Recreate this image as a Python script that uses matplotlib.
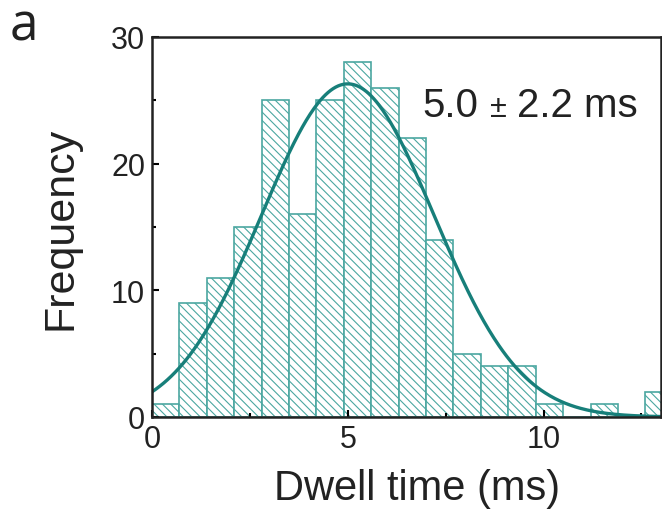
import numpy as np
import matplotlib
matplotlib.use("Agg")
import matplotlib.pyplot as plt
from matplotlib.ticker import MultipleLocator

# histogram: bins of 0.7 ms starting at 0
bin_width = 0.7
bin_left = np.arange(19) * bin_width
counts = [1, 9, 11, 15, 25, 16, 25, 28, 26, 22, 14, 5, 4, 4, 1, 0, 1, 0, 2]

# gaussian fit parameters
fit_mean = 5.0
fit_sigma = 2.2
fit_amp = 26.3

plt.rcParams["font.family"] = ["Liberation Sans", "DejaVu Sans"]
plt.rcParams["hatch.linewidth"] = 0.8
plt.rcParams["hatch.color"] = "#94cfcb"

fig = plt.figure(figsize=(6.62, 5.10), dpi=100)
ax = fig.add_axes([0.2296, 0.1804, 0.7689, 0.7451])

ax.bar(bin_left, counts, width=bin_width, align="edge", facecolor="white",
       edgecolor="#4ba7a1", linewidth=1.2, hatch="\\\\\\\\")

xs = np.linspace(0, 13, 400)
ax.plot(xs, fit_amp * np.exp(-(xs - fit_mean) ** 2 / (2 * fit_sigma ** 2)),
        color="#177f7a", lw=2.4)

ax.set_xlim(0, 13)
ax.set_ylim(0, 30)
ax.xaxis.set_major_locator(MultipleLocator(5))
ax.xaxis.set_minor_locator(MultipleLocator(2.5))
ax.yaxis.set_major_locator(MultipleLocator(10))
ax.yaxis.set_minor_locator(MultipleLocator(5))
ax.tick_params(which="both", direction="in", width=1.5, labelsize=22,
               labelcolor="#222222")
ax.tick_params(which="major", length=5, pad=5)
ax.tick_params(which="minor", length=3)
for s in ax.spines.values():
    s.set_linewidth(1.8)
    s.set_color("#222222")

ax.set_xlabel("Dwell time (ms)", fontsize=30, labelpad=10, color="#222222")
ax.xaxis.label.set_x(0.52)
ax.set_ylabel("Frequency", fontsize=31, labelpad=22, color="#222222")

# "5.0 ± 2.2 ms" with a smaller ± sign, laid out right to left
ty = 0.792
t3 = ax.text(0.955, ty, "2.2 ms", transform=ax.transAxes,
             ha="right", va="baseline", fontsize=29, color="#222222")
fig.canvas.draw()
rend = fig.canvas.get_renderer()
x_pm = ax.transAxes.inverted().transform((t3.get_window_extent(rend).x0 - 10, 0))[0]
t2 = ax.text(x_pm, ty, "\u00b1", transform=ax.transAxes,
             ha="right", va="baseline", fontsize=22, color="#222222")
fig.canvas.draw()
x_n = ax.transAxes.inverted().transform((t2.get_window_extent(rend).x0 - 12, 0))[0]
ax.text(x_n, ty, "5.0", transform=ax.transAxes,
        ha="right", va="baseline", fontsize=29, color="#222222")

fig.text(0.015, 0.92, "a", fontsize=37, family="Open Sans", color="#222222")

fig.savefig("out.png", dpi=100)
